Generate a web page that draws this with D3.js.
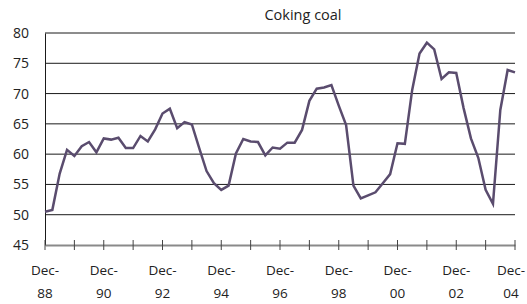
<!DOCTYPE html>
<html>
<head>
<meta charset="utf-8">
<script src="https://cdn.jsdelivr.net/npm/d3@7"></script>
<style>
  body { margin: 0; background: #fff; }
  text { font-family: "Open Sans", "DejaVu Sans", sans-serif; fill: #222; }
</style>
</head>
<body>
<svg width="527" height="304"></svg>
<script>
// quarterly price, Dec-88 .. Dec-04
const values = [
  50.5, 50.8, 56.8, 60.7, 59.7, 61.3, 62.0, 60.3, 62.6, 62.4, 62.7, 61.0,
  61.0, 63.0, 62.1, 64.1, 66.7, 67.5, 64.3, 65.3, 64.9, 61.0, 57.2, 55.2,
  54.1, 54.8, 60.1, 62.5, 62.1, 62.0, 59.8, 61.1, 60.9, 61.9, 61.9, 64.0,
  68.8, 70.8, 71.0, 71.4, 68.0, 64.8, 54.8, 52.7, 53.2, 53.7, 55.2, 56.7,
  61.8, 61.7, 70.6, 76.6, 78.4, 77.3, 72.4, 73.5, 73.4, 67.6, 62.6, 59.4,
  54.1, 51.8, 67.3, 73.9, 73.5
];
const years = d3.range(1988, 2005);
const yTicks = [45, 50, 55, 60, 65, 70, 75, 80];
const title = "Coking coal";

const svg = d3.select("svg"),
  margin = { top: 33, right: 12, bottom: 59, left: 45 },
  width = +svg.attr("width") - margin.left - margin.right,
  height = +svg.attr("height") - margin.top - margin.bottom;

const chart = svg.append("g")
  .attr("transform", `translate(${margin.left},${margin.top})`);

// x in years since Dec-88
const x = d3.scaleLinear().domain([1988, 2004]).range([0, width]);
const y = d3.scaleLinear().domain([45, 80]).range([height, 0]);

// gridlines
chart.append("g")
  .selectAll("line")
  .data(yTicks.filter((d) => d > 45))
  .enter()
  .append("line")
  .attr("x1", 0)
  .attr("x2", width)
  .attr("y1", (d) => y(d))
  .attr("y2", (d) => y(d))
  .attr("stroke", "#1a1a1a")
  .attr("stroke-width", 1);

// y axis
const yAxis = chart.append("g")
  .call(d3.axisLeft(y).tickValues(yTicks).tickSize(0).tickPadding(16));
yAxis.select(".domain").attr("stroke", "#1a1a1a");
yAxis.selectAll("text").attr("font-size", 14).attr("fill", "#222")
  .attr("font-family", "'Open Sans', 'DejaVu Sans', sans-serif");

// x axis
const xAxis = chart.append("g")
  .attr("transform", `translate(0,${height})`)
  .call(d3.axisBottom(x).tickValues(years).tickSize(0).tickFormat(""));
xAxis.select(".domain").attr("stroke", "#8a8a8a").attr("stroke-width", 2);

chart.append("g")
  .selectAll("line")
  .data(years)
  .enter()
  .append("line")
  .attr("x1", (d) => x(d))
  .attr("x2", (d) => x(d))
  .attr("y1", height - 5)
  .attr("y2", height + 5)
  .attr("stroke", "#444")
  .attr("stroke-width", 1);

// last label nudged in so it stays inside the window
const lx = (d) => x(d) - (d === 2004 ? 4 : 0);

const lbl = chart.append("g")
  .selectAll("text")
  .data(years.filter((d) => d % 2 === 0))
  .enter()
  .append("text")
  .attr("x", lx)
  .attr("text-anchor", "middle")
  .attr("font-size", 13.5);
lbl.append("tspan").attr("x", lx).attr("y", height + 30).text("Dec-");
lbl.append("tspan").attr("x", lx).attr("y", height + 53)
  .text((d) => String(d % 100).padStart(2, "0"));

// series line
const line = d3.line()
  .x((d, i) => x(1988 + i / 4))
  .y((d) => y(d));

chart.append("path")
  .datum(values)
  .attr("fill", "none")
  .attr("stroke", "#5a4c6e")
  .attr("stroke-width", 2.5)
  .attr("stroke-linejoin", "miter")
  .attr("d", line);

svg.append("text")
  .attr("x", 303)
  .attr("y", 20)
  .attr("text-anchor", "middle")
  .attr("font-size", 14.5)
  .text(title);
</script>
</body>
</html>
